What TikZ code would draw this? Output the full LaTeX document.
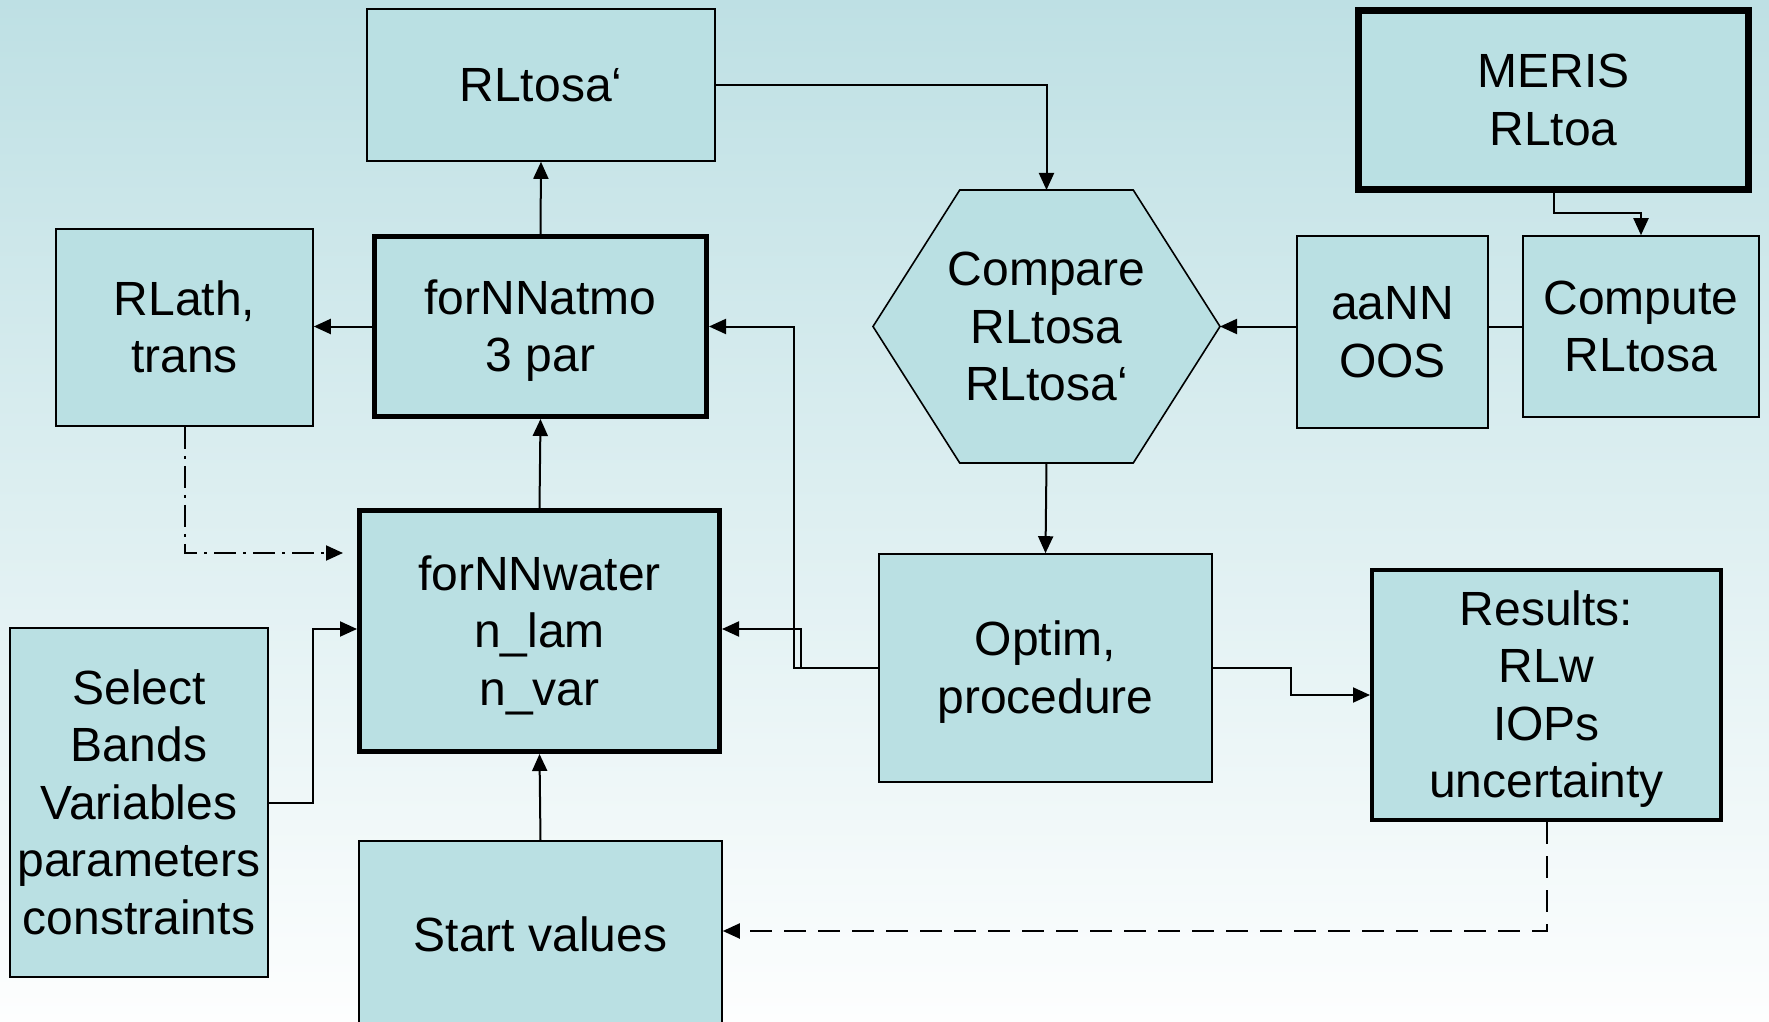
\documentclass[tikz,border=0pt]{standalone}
\usepackage{fontspec}
\setmainfont{Liberation Sans}
\usetikzlibrary{arrows.meta,calc}
\definecolor{boxfill}{RGB}{186,224,227}
\definecolor{bgtop}{RGB}{190,224,228}
\definecolor{bgbot}{RGB}{253,254,254}
\newcommand{\sx}{\rule[-0.212em]{0pt}{1.117em}}
\tikzset{
  box/.style={draw=black, fill=boxfill, line width=0.8pt, align=center, inner sep=0pt,
    font=\fontsize{24}{28.75}\selectfont},
  boldbox/.style={box, line width=2.5pt},
  conn/.style={line width=1pt},
  tip/.style={-{Triangle[length=8.5pt,width=7.5pt]}},
  arr/.style={conn, tip},
  dashdot/.style={dash pattern=on 11pt off 3.5pt on 1.5pt off 3.5pt},
  longdash/.style={dash pattern=on 11pt off 6pt},
}
\begin{document}
\begin{tikzpicture}[x=0.5pt,y=-0.5pt]
\path[clip] (0,0) rectangle (1769,1022);
\shade[top color=bgtop, bottom color=bgbot] (0,0) rectangle (1769,1022);

% boxes
\node[box, minimum width=174pt, minimum height=76pt] (rltosap) at (541,85) {\sx RLtosa‘};
\node[box, line width=3.5pt, minimum width=195pt, minimum height=89.5pt] (meris) at (1553.5,100) {\sx MERIS\\\sx RLtoa};
\node[box, minimum width=128.5pt, minimum height=98.5pt] (rlath) at (184.5,327.5) {\sx RLath,\\\sx trans};
\node[boldbox, minimum width=166pt, minimum height=90pt] (fornnatmo) at (540.5,326.5) {\sx forNNatmo\\\sx 3 par};
\node[inner sep=0pt, outer sep=0pt, minimum width=173.5pt, minimum height=136.5pt] (cmp) at (1046.5,326.5) {};
\draw[fill=boxfill, line width=0.8pt] (cmp.west)
  -- ($(cmp.north west)!0.25!(cmp.north east)$)
  -- ($(cmp.north west)!0.75!(cmp.north east)$)
  -- (cmp.east)
  -- ($(cmp.south west)!0.75!(cmp.south east)$)
  -- ($(cmp.south west)!0.25!(cmp.south east)$)
  -- cycle;
\node[align=center, inner sep=0pt, font=\fontsize{24}{28.75}\selectfont] (cmptxt) at (cmp) {\sx Compare\\\sx RLtosa\\\sx RLtosa‘};
\node[box, minimum width=95.5pt, minimum height=96pt] (aann) at (1392.5,332) {\sx aaNN\\\sx OOS};
\node[box, minimum width=118pt, minimum height=90.5pt] (compute) at (1641,326.5) {\sx Compute\\\sx RLtosa};
\node[boldbox, minimum width=180pt, minimum height=120.5pt] (fornnwater) at (539.5,631) {\sx forNNwater\\\sx n\_lam\\\sx n\_var};
\node[box, line width=1.2pt, minimum width=129pt, minimum height=174.5pt] (select) at (139,802.5) {\sx Select\\\sx Bands\\\sx Variables\\\sx parameters\\\sx constraints};
\node[box, minimum width=166.5pt, minimum height=114pt] (optim) at (1045.5,668) {\sx Optim,\\\sx procedure};
\node[box, line width=2pt, minimum width=174.5pt, minimum height=125pt] (results) at (1546.5,695) {\sx Results:\\\sx RLw\\\sx IOPs\\\sx uncertainty};
\node[box, minimum width=181.5pt, minimum height=94pt] (start) at (540.5,935) {\sx Start values};

% connectors
\draw[arr] (fornnatmo.north) -- (rltosap.south);
\draw[arr] (fornnatmo.west) -- (rlath.east |- fornnatmo.west);
\draw[arr] (fornnwater.north) -- (fornnatmo.south);
\draw[arr] (start.north) -- (fornnwater.south);
\coordinate (ddend) at (343,553);
\draw[conn, dashdot, tip] (rlath.south) |- (ddend);
\draw[arr] (select.east) -| ($(select.east)!.5!(fornnwater.west)$) |- ([yshift=1pt]fornnwater.west);
\draw[arr] (optim.west) -- ($(optim.west)+(-84,0)$) |- (fornnatmo.east);
\draw[arr] (optim.west) -- ($(optim.west)+(-77,0)$) |- ([yshift=1pt]fornnwater.east);
\draw[arr] (rltosap.east) -| (cmp.north);
\draw[arr] (aann.west |- cmp.east) -- (cmp.east);
\draw[conn] (aann.east |- compute.west) -- (compute.west);
\draw[arr] (meris.south) -- ++(0,20) -| (compute.north);
\draw[arr] (cmp.south) -- (optim.north);
\draw[arr] (optim.east) -| ($(optim.east)!.5!(results.west)$) |- (results.west);
\draw[conn, longdash, tip] (results.south) |- ([yshift=2pt]start.east);
\end{tikzpicture}
\end{document}
